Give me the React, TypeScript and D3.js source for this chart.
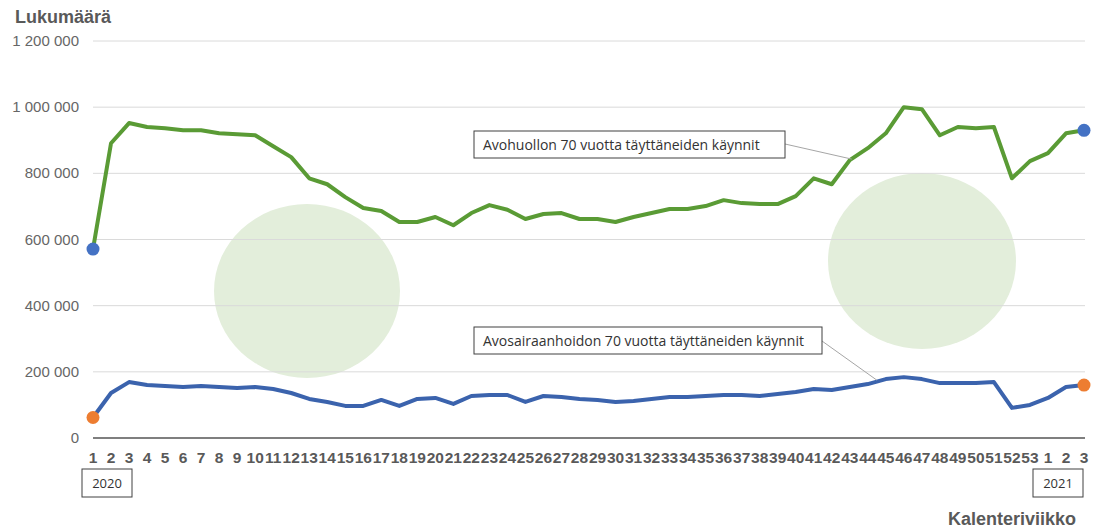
import React from "react";
import * as d3 from "d3";

const weekLabels: string[] = [
  "1","2","3","4","5","6","7","8","9","10","11","12","13","14","15","16","17","18","19","20",
  "21","22","23","24","25","26","27","28","29","30","31","32","33","34","35","36","37","38","39","40",
  "41","42","43","44","45","46","47","48","49","50","51","52","53","1","2","3",
];

const avohuolto: number[] = [
  571000, 891000, 952000, 940000, 936000, 930000, 930000, 921000, 918000, 915000,
  882000, 849000, 785000, 767000, 728000, 695000, 686000, 653000, 653000, 668000,
  643000, 680000, 704000, 690000, 662000, 677000, 680000, 662000, 662000, 653000,
  668000, 680000, 692000, 692000, 701000, 719000, 710000, 707000, 707000, 731000,
  785000, 767000, 840000, 876000, 921000, 1000000, 994000, 915000, 940000, 936000,
  940000, 785000, 837000, 861000, 921000, 930000,
];

const avosairaanhoito: number[] = [
  62000, 136000, 169000, 160000, 157000, 154000, 157000, 154000, 151000, 154000,
  148000, 136000, 118000, 109000, 97000, 97000, 115000, 97000, 118000, 121000,
  103000, 127000, 130000, 130000, 109000, 127000, 124000, 118000, 115000, 109000,
  112000, 118000, 124000, 124000, 127000, 130000, 130000, 127000, 133000, 139000,
  148000, 145000, 154000, 163000, 178000, 184000, 178000, 166000, 166000, 166000,
  169000, 91000, 100000, 121000, 154000, 160000,
];

const yTicks: number[] = [0, 200000, 400000, 600000, 800000, 1000000, 1200000];
const yearLabels: string[] = ["2020", "2021"];
const seriesNames: string[] = [
  "Avohuollon 70 vuotta täyttäneiden käynnit",
  "Avosairaanhoidon 70 vuotta täyttäneiden käynnit",
];

const W = 1093;
const H = 528;

export default function App() {
  const x = d3.scaleLinear().domain([0, weekLabels.length - 1]).range([93, 1084]);
  const y = d3.scaleLinear().domain([0, 1200000]).range([438, 41]);
  const fmt = (v: number) => d3.format(",")(v).replace(/,/g, " ");
  const line = d3.line<number>().x((_, i) => x(i)).y((d) => y(d));
  const last = weekLabels.length - 1;
  const uiFont = "'Liberation Sans', Arial, sans-serif";
  const boxFont = "'Open Sans', 'Noto Sans', sans-serif";

  return (
    <svg width={W} height={H} style={{ position: "absolute", left: 0, top: 0, background: "#fff" }}>
      <rect x={0} y={0} width={W} height={H} fill="#fff" />
      {/* decorative circles */}
      <ellipse cx={307} cy={291} rx={93} ry={87} fill="#e3eedb" />
      <ellipse cx={922} cy={261} rx={94} ry={88} fill="#e3eedb" />

      {/* grid */}
      {yTicks.map((t) =>
        t === 0 ? null : (
          <line key={t} x1={93} x2={1085} y1={y(t)} y2={y(t)} stroke="#dadada" strokeWidth={1} />
        )
      )}
      {yTicks.map((t) => (
        <text key={"l" + t} x={79} y={y(t) + 5} textAnchor="end" fontFamily={uiFont} fontSize={15} fill="#666">
          {fmt(t)}
        </text>
      ))}
      <line x1={93} x2={1085} y1={y(0)} y2={y(0)} stroke="#7f7f7f" strokeWidth={2} />

      <text x={15} y={23} fontFamily={uiFont} fontSize={18} fontWeight="bold" fill="#595959">
        Lukumäärä
      </text>

      {/* x labels */}
      {weekLabels.map((w, i) => (
        <text key={"w" + i} x={x(i)} y={463} textAnchor="middle" fontFamily={uiFont} fontSize={15.5} fontWeight="bold" fill="#595959">
          {w}
        </text>
      ))}

      {/* year boxes */}
      <rect x={82} y={469} width={50} height={28} fill="#fff" stroke="#404040" strokeWidth={1} />
      <text x={107} y={488} textAnchor="middle" fontFamily={boxFont} fontSize={13} fill="#333">{yearLabels[0]}</text>
      <rect x={1033} y={469} width={50} height={28} fill="#fff" stroke="#404040" strokeWidth={1} />
      <text x={1058} y={488} textAnchor="middle" fontFamily={boxFont} fontSize={13} fill="#333">{yearLabels[1]}</text>

      <text x={1076} y={525} textAnchor="end" fontFamily={uiFont} fontSize={18} fontWeight="bold" fill="#595959">
        Kalenteriviikko
      </text>

      {/* lines */}
      <path d={line(avohuolto) || ""} fill="none" stroke="#5a9b35" strokeWidth={4} strokeLinejoin="round" />
      <path d={line(avosairaanhoito) || ""} fill="none" stroke="#3b63ad" strokeWidth={4} strokeLinejoin="round" />

      {/* end points */}
      <circle cx={x(0)} cy={y(avohuolto[0])} r={6.5} fill="#4472c4" />
      <circle cx={x(last)} cy={y(avohuolto[last])} r={6.5} fill="#4472c4" />
      <circle cx={x(0)} cy={y(avosairaanhoito[0])} r={6.5} fill="#ed7d31" />
      <circle cx={x(last)} cy={y(avosairaanhoito[last])} r={6.5} fill="#ed7d31" />

      {/* callouts */}
      <line x1={785} y1={144} x2={x(42) + 2} y2={y(avohuolto[42]) - 1} stroke="#a6a6a6" strokeWidth={1} />
      <rect x={474} y={131} width={311} height={27} fill="#fff" stroke="#404040" strokeWidth={1} />
      <text x={483} y={149.5} fontFamily={boxFont} fontSize={14} fill="#333">{seriesNames[0]}</text>

      <line x1={822} y1={341} x2={x(43) + 9} y2={y(avosairaanhoito[44]) + 1} stroke="#a6a6a6" strokeWidth={1} />
      <rect x={474} y={327} width={348} height={27} fill="#fff" stroke="#404040" strokeWidth={1} />
      <text x={483} y={345.5} fontFamily={boxFont} fontSize={14} fill="#333">{seriesNames[1]}</text>
    </svg>
  );
}
